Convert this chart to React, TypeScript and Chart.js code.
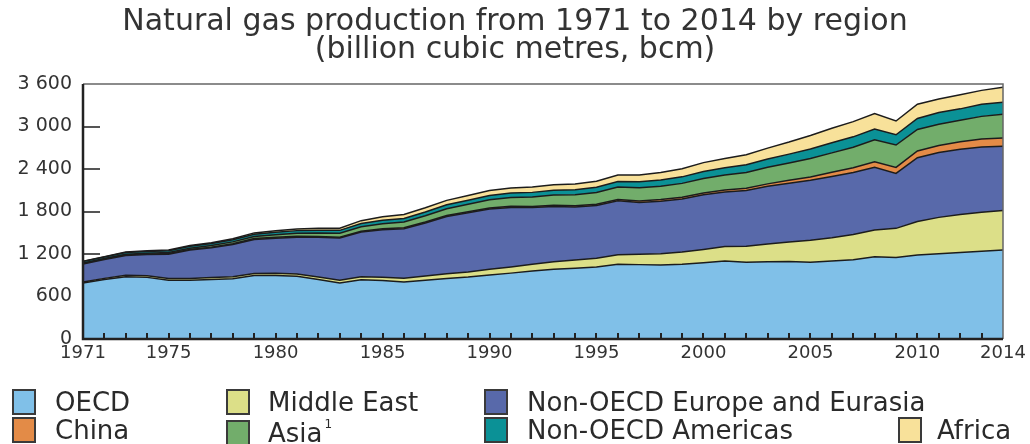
import React, { useEffect, useRef } from "react";
import { Chart, registerables } from "chart.js";

Chart.register(...registerables);

const years = [
  1971, 1972, 1973, 1974, 1975, 1976, 1977, 1978, 1979, 1980,
  1981, 1982, 1983, 1984, 1985, 1986, 1987, 1988, 1989, 1990,
  1991, 1992, 1993, 1994, 1995, 1996, 1997, 1998, 1999, 2000,
  2001, 2002, 2003, 2004, 2005, 2006, 2007, 2008, 2009, 2010,
  2011, 2012, 2013, 2014,
];

const oecd = [
  790, 840, 880, 870, 830, 830, 840, 850, 895, 895,
  885, 840, 790, 835, 825, 805, 830, 855, 875, 905,
  930, 960, 985, 1000, 1015, 1055, 1050, 1045, 1055, 1075,
  1100, 1085, 1090, 1095, 1085, 1100, 1120, 1160, 1150, 1185,
  1205, 1220, 1240, 1257,
];
const middleEast = [
  14, 16, 20, 22, 23, 25, 27, 28, 30, 32,
  33, 36, 40, 45, 48, 52, 58, 65, 72, 80,
  88, 95, 105, 115, 125, 135, 148, 160, 172, 190,
  205, 225, 250, 275, 310, 330, 355, 380, 412, 475,
  512, 538, 550, 558,
];
const nonOecdEurope = [
  255, 265, 280, 300, 345, 400, 420, 455, 480, 495,
  520, 560, 595, 630, 670, 700, 750, 810, 835, 850,
  840, 800, 780, 750, 745, 760, 730, 740, 750, 770,
  770, 785, 815, 830, 845, 865, 875, 885, 775, 900,
  915, 920, 920, 905,
];
const china = [
  4, 4, 5, 6, 8, 9, 10, 12, 13, 14,
  13, 12, 12, 12, 13, 14, 14, 14, 15, 15,
  16, 16, 17, 17, 18, 20, 22, 23, 25, 27,
  30, 32, 35, 40, 48, 58, 68, 78, 86, 94,
  100, 106, 115, 119,
];
const asia = [
  10, 11, 12, 14, 16, 18, 22, 26, 30, 36,
  42, 50, 56, 64, 72, 80, 88, 95, 105, 115,
  125, 135, 145, 155, 165, 175, 185, 190, 195, 205,
  210, 225, 235, 245, 260, 275, 290, 310, 315, 305,
  300, 305, 318, 333,
];
const nonOecdAmericas = [
  20, 21, 23, 24, 25, 26, 28, 30, 32, 35,
  37, 39, 41, 45, 48, 50, 52, 55, 58, 60,
  62, 64, 67, 70, 74, 78, 84, 88, 92, 98,
  102, 108, 115, 125, 135, 142, 146, 150, 145, 155,
  165, 160, 172, 172,
];
const africa = [
  5, 6, 8, 9, 10, 11, 13, 15, 18, 20,
  22, 25, 30, 40, 50, 56, 60, 63, 65, 70,
  72, 75, 78, 80, 85, 92, 98, 105, 115, 125,
  130, 140, 155, 170, 190, 205, 215, 220, 195, 200,
  190, 200, 195, 209,
];

const xTickYears = [1971, 1975, 1980, 1985, 1990, 1995, 2000, 2005, 2010, 2014];
const yTickValues = [0, 600, 1200, 1800, 2400, 3000, 3600];

const titleLines = [
  "Natural gas production from 1971 to 2014 by region",
  "(billion cubic metres, bcm)",
];

const FONT = "'DejaVu Sans', sans-serif";

const series = [
  { label: "OECD", data: oecd, color: "#80c0e8" },
  { label: "Middle East", data: middleEast, color: "#dcdf88" },
  { label: "Non-OECD Europe and Eurasia", data: nonOecdEurope, color: "#5869aa" },
  { label: "China", data: china, color: "#e38b47" },
  { label: "Asia", data: asia, color: "#72ad6b" },
  { label: "Non-OECD Americas", data: nonOecdAmericas, color: "#0b9196" },
  { label: "Africa", data: africa, color: "#f8e19a" },
];

const legendItems = [
  { text: "OECD", color: "#80c0e8", boxX: 12, textX: 55, row: 0, sup: "" },
  { text: "Middle East", color: "#dcdf88", boxX: 226, textX: 268, row: 0, sup: "" },
  { text: "Non-OECD Europe and Eurasia", color: "#5869aa", boxX: 484, textX: 527, row: 0, sup: "" },
  { text: "China", color: "#e38b47", boxX: 12, textX: 55, row: 1, sup: "" },
  { text: "Asia", color: "#72ad6b", boxX: 226, textX: 268, row: 1, sup: "1" },
  { text: "Non-OECD Americas", color: "#0b9196", boxX: 484, textX: 527, row: 1, sup: "" },
  { text: "Africa", color: "#f8e19a", boxX: 898, textX: 937, row: 1, sup: "" },
];

const formatThousands = (v: number) =>
  v >= 1000 ? `${Math.floor(v / 1000)} ${String(v % 1000).padStart(3, "0")}` : String(v);

const framePlugin = {
  id: "frameTicks",
  beforeDatasetsDraw(chart: any) {
    const { ctx, chartArea, scales } = chart;
    ctx.save();
    ctx.strokeStyle = "#555";
    ctx.lineWidth = 2;
    for (const v of yTickValues) {
      if (v === 0 || v === 3600) continue;
      const py = Math.round(scales.y.getPixelForValue(v));
      ctx.beginPath();
      ctx.moveTo(chartArea.left, py);
      ctx.lineTo(chartArea.left + 17, py);
      ctx.stroke();
    }
    ctx.restore();
  },
  afterDatasetsDraw(chart: any) {
    const { ctx, chartArea, scales } = chart;
    const { left, top, right, bottom } = chartArea;
    ctx.save();
    ctx.strokeStyle = "#666";
    ctx.lineWidth = 1.5;
    ctx.beginPath();
    ctx.moveTo(left, top);
    ctx.lineTo(right, top);
    ctx.lineTo(right, bottom);
    ctx.stroke();
    ctx.strokeStyle = "#222";
    ctx.lineWidth = 2;
    for (const yr of years) {
      if (yr === years[0] || yr === years[years.length - 1]) continue;
      const px = Math.round(scales.x.getPixelForValue(yr));
      ctx.beginPath();
      ctx.moveTo(px, bottom);
      ctx.lineTo(px, bottom - 6);
      ctx.stroke();
    }
    ctx.strokeStyle = "#222";
    ctx.lineWidth = 2.5;
    ctx.beginPath();
    ctx.moveTo(left, top);
    ctx.lineTo(left, bottom);
    ctx.lineTo(right, bottom);
    ctx.stroke();
    ctx.restore();
  },
};

export default function App() {
  const ref = useRef<HTMLCanvasElement>(null);

  useEffect(() => {
    document.body.style.margin = "0";
    const canvas = ref.current;
    if (!canvas) return;
    const chart = new Chart(canvas, {
      type: "line",
      data: {
        datasets: series.map((s, i) => ({
          label: s.label,
          data: years.map((yr, j) => ({ x: yr, y: s.data[j] })),
          backgroundColor: s.color,
          borderColor: "#1c1c1c",
          borderWidth: 1.5,
          pointRadius: 0,
          fill: i === 0 ? "origin" : "-1",
          tension: 0,
        })),
      },
      options: {
        responsive: false,
        animation: false,
        devicePixelRatio: 1,
        layout: { padding: { top: 84, right: 27, left: 0, bottom: 0 } },
        plugins: {
          legend: { display: false },
          title: { display: false },
          tooltip: { enabled: false },
        },
        scales: {
          x: {
            type: "linear",
            min: 1971,
            max: 2014,
            grid: { display: false, drawTicks: false },
            border: { display: false },
            afterBuildTicks: (s: any) => {
              s.ticks = xTickYears.map((v) => ({ value: v }));
            },
            afterFit: (s: any) => {
              s.height = 105;
            },
            ticks: {
              autoSkip: false,
              maxRotation: 0,
              padding: 4,
              color: "#333",
              font: { family: FONT, size: 18 },
              callback: (v: any) => String(v),
            },
          },
          y: {
            stacked: true,
            min: 0,
            max: 3600,
            grid: { display: false, drawTicks: false },
            border: { display: false },
            afterBuildTicks: (s: any) => {
              s.ticks = yTickValues.map((v) => ({ value: v }));
            },
            afterFit: (s: any) => {
              s.width = 83;
            },
            ticks: {
              padding: 11,
              color: "#333",
              font: { family: FONT, size: 19 },
              callback: (v: any) => formatThousands(Number(v)),
            },
          },
        },
      } as any,
      plugins: [framePlugin],
    });
    return () => chart.destroy();
  }, []);

  return (
    <div style={{ position: "fixed", left: 0, top: 0, width: 1030, height: 444, background: "#fff", fontFamily: FONT, color: "#2a2a2a" }}>
      <canvas ref={ref} width={1030} height={444} style={{ position: "absolute", left: 0, top: 0 }} />
      <div style={{ position: "absolute", left: 0, top: 6, width: 1030, textAlign: "center", fontSize: 30, lineHeight: "28px", whiteSpace: "nowrap", color: "#333" }}>
        {titleLines.map((t) => (
          <div key={t}>{t}</div>
        ))}
      </div>
      {legendItems.map((it) => {
        const cy = it.row === 0 ? 402 : 430;
        const dy = it.sup ? 3 : 0;
        return (
          <React.Fragment key={it.text}>
            <div
              style={{
                position: "absolute",
                left: it.boxX,
                top: cy - 13 + dy,
                width: 24,
                height: 26,
                boxSizing: "border-box",
                border: "2px solid #3a3a3a",
                background: it.color,
              }}
            />
            <div
              style={{
                position: "absolute",
                left: it.textX,
                top: cy - 15 + dy,
                fontSize: 26,
                lineHeight: "30px",
                whiteSpace: "nowrap",
              }}
            >
              {it.text}
              {it.sup ? <sup style={{ fontSize: 12, verticalAlign: "top", lineHeight: "12px", marginLeft: 2 }}>{it.sup}</sup> : null}
            </div>
          </React.Fragment>
        );
      })}
    </div>
  );
}
